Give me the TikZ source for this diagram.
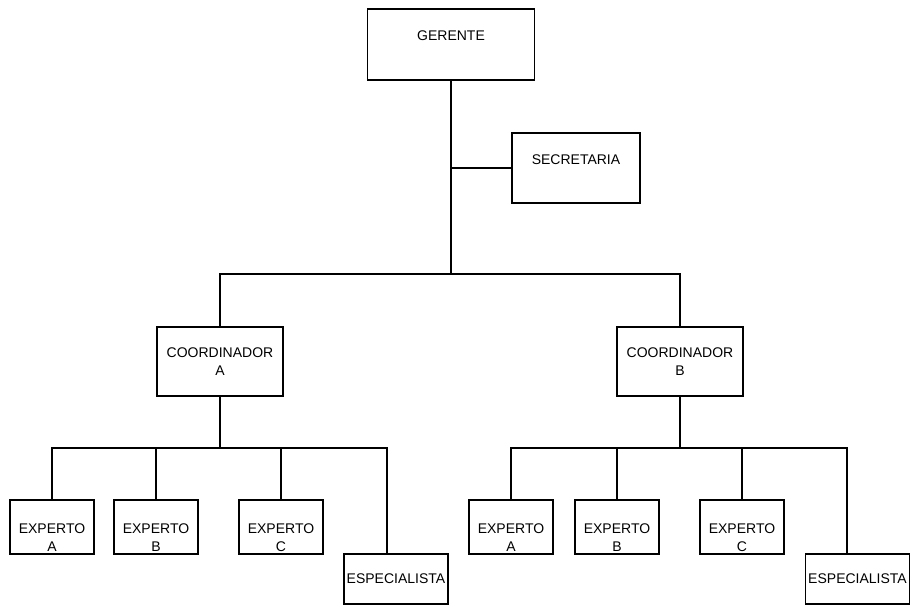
\documentclass[tikz,border=0pt]{standalone}
\usepackage{fontspec}
\setmainfont{Liberation Sans}
\usepackage{tikz}

\begin{document}
\begin{tikzpicture}[x=1pt, y=-1pt, line width=1.5pt,
        caja/.style={draw, rectangle, inner sep=0pt, align=center,
                     font=\fontsize{14}{18}\selectfont},
        jefe/.style={caja, text height=10pt, text depth=18pt},
        experto/.style={caja, minimum width=84pt, minimum height=54pt, text height=48pt, text depth=0pt},
        coord/.style={caja, minimum width=126pt, minimum height=69pt}]
            \useasboundingbox (0,0) rectangle (912,606);
            % nivel superior
            \node[jefe, minimum width=167pt, minimum height=71pt] (ger) at (451.0, 44.5) {GERENTE};
            \node[jefe, minimum width=128pt, minimum height=70pt, text depth=17pt] (sec) at (576.0,168.0) {SECRETARIA};
            \node[coord] (coA) at (220.0,361.5) {COORDINADOR\\A};
            \node[coord] (coB) at (680.0,361.5) {COORDINADOR\\B};
            % grupo A
            \node[experto] (exAA) at ( 52.0,527.0) {EXPERTO\\A};
            \node[experto] (exAB) at (156.0,527.0) {EXPERTO\\B};
            \node[experto] (exAC) at (281.0,527.0) {EXPERTO\\C};
            \node[caja, minimum width=104pt, minimum height=50pt] (espA) at (396.0,579.0) {ESPECIALISTA};
            % grupo B
            \node[experto] (exBA) at (511.0,527.0) {EXPERTO\\A};
            \node[experto] (exBB) at (617.0,527.0) {EXPERTO\\B};
            \node[experto] (exBC) at (742.0,527.0) {EXPERTO\\C};
            \node[caja, minimum width=104pt, minimum height=50pt] (espB) at (857.5,579.0) {ESPECIALISTA};
            % conectores
            \coordinate (raiz) at (451.0,274.0);
            \coordinate (busA) at (220.0,448.0);
            \coordinate (busB) at (680.0,448.0);
            \coordinate (ramA) at (387.0,448.0);
            \coordinate (ramB) at (847.0,448.0);
            \draw (ger.south) -- (raiz);
            \draw (sec.west) -- (sec.west -| raiz);
            \draw (coA.north) |- (raiz) -| (coB.north);
            \draw (coA.south) -- (busA);
            \draw (coB.south) -- (busB);
            \draw (exAA.north) |- (ramA) -- (ramA |- espA.north);
            \draw (exBA.north) |- (ramB) -- (ramB |- espB.north);
            \foreach \n in {exAB,exAC} \draw (\n.north) -- (\n.north |- busA);
            \foreach \n in {exBB,exBC} \draw (\n.north) -- (\n.north |- busB);
\end{tikzpicture}
\end{document}
